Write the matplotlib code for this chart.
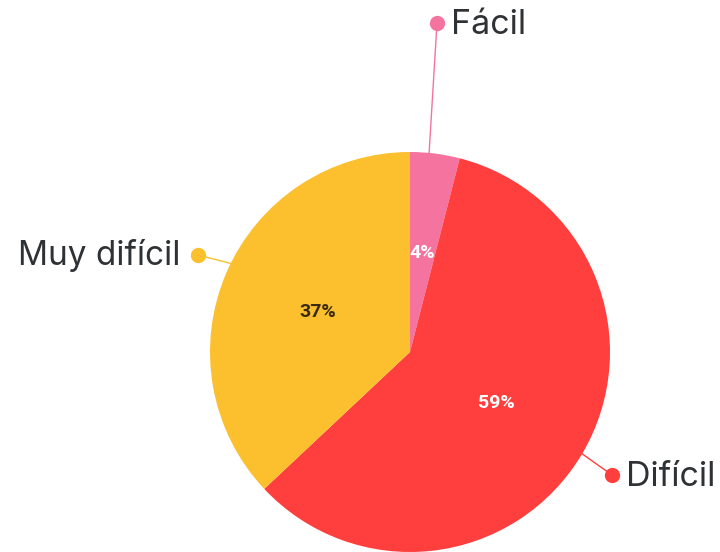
import numpy as np
import matplotlib as mpl
mpl.use('Agg')
import matplotlib.pyplot as plt

# data
labels = ['Fácil', 'Difícil', 'Muy difícil']
values = [4, 59, 37]
colors = ['#F4739F', '#FF3F3D', '#FCC02E']
pct_colors = ['white', 'white', '#3a2a10']

# callout dot positions (pixels, y down)
label_pos = [(437, 23), (612, 475), (198, 255)]

W, H = 720, 552
fig = plt.figure(figsize=(W / 100, H / 100), dpi=100)
ax = fig.add_axes([0, 0, 1, 1])

cx, cy, r = 410, H - 352, 200
wedges, texts, autotexts = ax.pie(values, colors=colors, startangle=90, counterclock=False,
                                  center=(cx, cy), radius=r,
                                  autopct=lambda p: '%.0f%%' % p, pctdistance=0.5,
                                  wedgeprops=dict(linewidth=0), frame=True)
ax.set_xlim(0, W)
ax.set_ylim(0, H)
ax.set_aspect('equal')
ax.axis('off')

for t, c in zip(autotexts, pct_colors):
    t.set_color(c)
    t.set_fontsize(14)
    t.set_fontweight('bold')
    t.set_fontfamily('Roboto')

for w, lab, c, (lx, ly) in zip(wedges, labels, colors, label_pos):
    ang = np.deg2rad((w.theta1 + w.theta2) / 2)
    ex, ey = cx + r * np.cos(ang), cy + r * np.sin(ang)
    dy = H - ly
    if lx < cx:
        # edge point closer to the dot for the left callout
        ang2 = np.arcsin((dy - cy) / r)
        ex, ey = cx - r * np.cos(ang2) * 0.99, cy + r * np.sin(ang2) - 10
    elif dy > cy:
        ex = ex - 6
    ax.plot([ex, lx], [ey, dy], color=c, lw=1, zorder=1)
    ax.plot(lx, dy, 'o', color=c, ms=11, zorder=3, mec='none')
    if lx < cx:
        ax.text(lx - 18, dy, lab, ha='right', va='center', fontsize=24,
                color='#2e3234', fontfamily='Inter')
    else:
        ax.text(lx + 14, dy - 2, lab, ha='left', va='center', fontsize=24.5,
                color='#2e3234', fontfamily='Inter')

fig.savefig('out.png', dpi=100)
